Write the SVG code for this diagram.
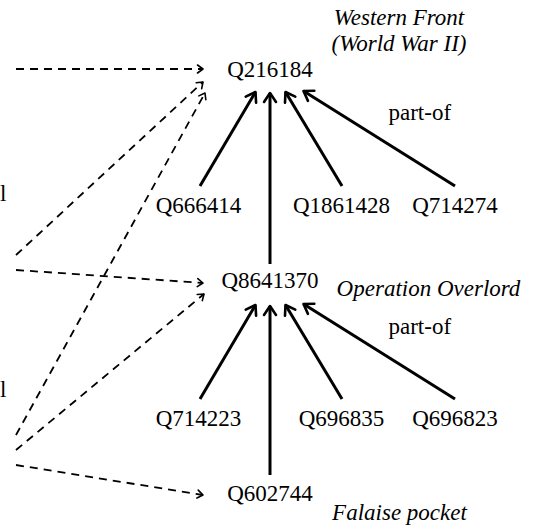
<svg xmlns="http://www.w3.org/2000/svg" width="538" height="532" viewBox="0 0 538 532">
<style>
text{font-family:"Liberation Serif","Times New Roman",serif;font-size:23px;fill:#000}
.n{text-anchor:middle}
.it{font-style:italic;text-anchor:middle}
.solid{stroke:#000;stroke-width:3;fill:none;marker-end:url(#big)}
.dash{stroke:#000;stroke-width:1.8;fill:none;stroke-dasharray:8 6;marker-end:url(#small)}
.hb{stroke:#000;stroke-width:2.6;fill:none;stroke-linecap:round;stroke-linejoin:round}
.hs{stroke:#000;stroke-width:1.6;fill:none;stroke-linecap:round;stroke-linejoin:round}
</style>
<defs>
<marker id="big" markerUnits="userSpaceOnUse" viewBox="-12 -8 14 16" markerWidth="14" markerHeight="16" refX="0" refY="0" orient="auto" overflow="visible">
<path class="hb" d="M-9,-6 L0,0 L-9,6"/>
</marker>
<marker id="small" markerUnits="userSpaceOnUse" viewBox="-8 -6 10 12" markerWidth="10" markerHeight="12" refX="0" refY="0" orient="auto" overflow="visible">
<path class="hs" d="M-5.5,-4 L0,0 L-5.5,4"/>
</marker>
</defs>
<g id="connectors">
<line class="solid" x1="200" y1="186" x2="255.5" y2="92"/>
<line class="solid" x1="270" y1="264" x2="270" y2="93"/>
<line class="solid" x1="342" y1="186" x2="285.5" y2="92"/>
<line class="solid" x1="455" y1="186" x2="303.5" y2="91"/>
<line class="solid" x1="200" y1="399" x2="255.5" y2="305"/>
<line class="solid" x1="270" y1="475" x2="270" y2="306"/>
<line class="solid" x1="342" y1="399" x2="285.5" y2="305"/>
<line class="solid" x1="455" y1="399" x2="303.5" y2="304"/>
<line class="dash" x1="16" y1="69" x2="203" y2="69"/>
<line class="dash" x1="16" y1="255" x2="203" y2="82"/>
<line class="dash" x1="16" y1="435" x2="205" y2="93"/>
<line class="dash" x1="16" y1="270" x2="203" y2="283"/>
<line class="dash" x1="16" y1="450" x2="204" y2="294"/>
<line class="dash" x1="16" y1="465" x2="203" y2="495"/>
</g>
<g id="Q216184"><text class="n" x="270" y="77">Q216184</text></g>
<g id="Q666414"><text class="n" x="198.5" y="213">Q666414</text></g>
<g id="Q1861428"><text class="n" x="341.5" y="213">Q1861428</text></g>
<g id="Q714274"><text class="n" x="455" y="213">Q714274</text></g>
<g id="Q8641370"><text class="n" x="270" y="288">Q8641370</text></g>
<g id="Q714223"><text class="n" x="198.5" y="426">Q714223</text></g>
<g id="Q696835"><text class="n" x="341.5" y="426">Q696835</text></g>
<g id="Q696823"><text class="n" x="455" y="426">Q696823</text></g>
<g id="Q602744"><text class="n" x="270" y="501">Q602744</text></g>
<g id="labels">
<text class="it" x="399" y="25">Western Front</text>
<text class="it" x="399" y="51">(World War II)</text>
<text class="it" x="428.5" y="296">Operation Overlord</text>
<text class="it" x="399.5" y="520">Falaise pocket</text>
<text x="388.5" y="120">part-of</text>
<text x="388.5" y="334">part-of</text>
<text x="0" y="201">l</text>
<text x="0" y="397">l</text>
</g>
</svg>
